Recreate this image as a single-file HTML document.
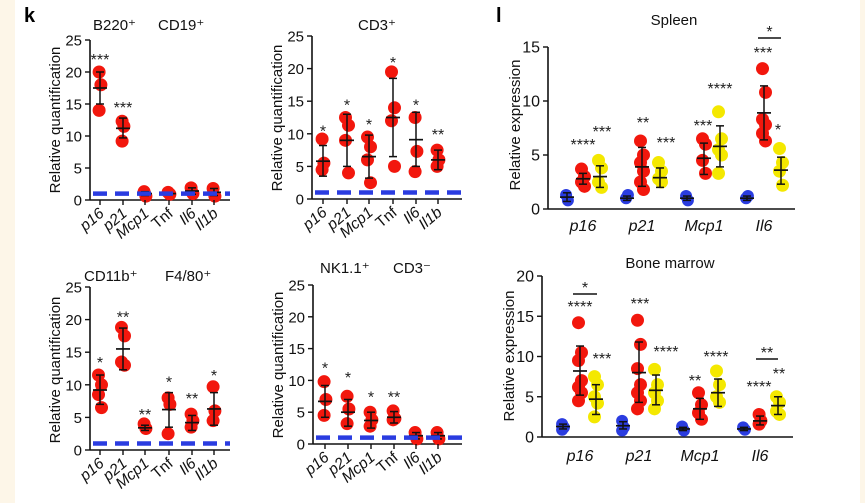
<!DOCTYPE html>
<html><head><meta charset="utf-8"><style>
body{margin:0;background:#fff;}
svg{display:block;font-family:"Liberation Sans",sans-serif;}
</style></head><body>
<svg id="s" width="865" height="503" viewBox="0 0 865 503" xmlns="http://www.w3.org/2000/svg">
<rect x="0" y="0" width="865" height="503" fill="#fff"/>
<rect x="0" y="0" width="15" height="503" fill="#fdf6e8"/>
<rect x="860" y="0" width="5" height="503" fill="#fdf6e8"/>
<text x="24" y="22" font-size="20" font-weight="bold" fill="#000">k</text>
<text x="496" y="22" font-size="20" font-weight="bold" fill="#000">l</text>
</svg>
<script>
const S=document.getElementById('s');const NS='http://www.w3.org/2000/svg';
function el(t,a,txt){const e=document.createElementNS(NS,t);for(const k in a)e.setAttribute(k,a[k]);if(txt!==undefined)e.textContent=txt;S.appendChild(e);return e;}
const RED='#f2170d',BLUE='#2a3ce0',YEL='#f4e800';
function axis(x0,x1,y0,ytop,vmax,step,fs){
 el('line',{x1:x0,y1:y0,x2:x0,y2:ytop,stroke:'#111','stroke-width':1.6});
 el('line',{x1:x0,y1:y0,x2:x1,y2:y0,stroke:'#111','stroke-width':1.6});
 for(let v=0;v<=vmax;v+=step){const y=y0-(y0-ytop)*v/vmax;
  el('line',{x1:x0-5,y1:y,x2:x0,y2:y,stroke:'#111','stroke-width':1.4});
  el('text',{x:x0-8,y:y+5.5,'font-size':fs,'text-anchor':'end',fill:'#111'},String(v));}
}
function grp(x,Y,dots,col,r,m,lo,hi){
 dots.forEach((v,i)=>el('circle',{cx:x+(i%2?1.5:-1.5)*(dots.length>3?1:0.6),cy:Y(v),r:r,fill:col}));
 if(m!==undefined){
  el('line',{x1:x,y1:Y(lo),x2:x,y2:Y(hi),stroke:'#111','stroke-width':1.5});
  el('line',{x1:x-4,y1:Y(lo),x2:x+4,y2:Y(lo),stroke:'#111','stroke-width':1.5});
  el('line',{x1:x-4,y1:Y(hi),x2:x+4,y2:Y(hi),stroke:'#111','stroke-width':1.5});
  el('line',{x1:x-7,y1:Y(m),x2:x+7,y2:Y(m),stroke:'#111','stroke-width':1.7});
 }
}
function star(x,y,s){el('text',{x:x,y:y+2,'font-size':16,'text-anchor':'middle',fill:'#222'},s);}
function kpanel(ax,y0,ytop,xs,x1,data,ylabelY){
 const Y=v=>y0-(y0-ytop)*v/25;
 axis(ax,x1,y0,ytop,25,5,15);
 el('text',{transform:`translate(${ax-30},${ylabelY}) rotate(-90)`,'font-size':15,'text-anchor':'middle',fill:'#111'},'Relative quantification');
 const labs=['p16','p21','Mcp1','Tnf','Il6','Il1b'];
 xs.forEach((x,i)=>{const d=data[i];grp(x,Y,d[0],RED,6.5,d[1],d[2],d[3]);if(d[4])star(x,Y(d[5])+4,d[4]);
  el('line',{x1:x,y1:y0,x2:x,y2:y0+5,stroke:'#111','stroke-width':1.4});
  el('text',{transform:`translate(${x+5},${y0+15}) rotate(-40)`,'font-size':15.5,'text-anchor':'end',fill:'#111','font-style':(i==3?'normal':'italic')},labs[i]);});
 el('line',{x1:ax+3,y1:Y(1),x2:x1,y2:Y(1),stroke:BLUE,'stroke-width':4.5,'stroke-dasharray':'14,8'});
}
kpanel(90,200,40,[100,123,145,169,192,214],230,[
 [[20,18,14],17.5,15,20,'***',22],[[12.3,11.5,9.2],11.2,9.7,12.8,'***',14.5],
 [[1.3,0.6],1,0.7,1.3],[[1.2,0.9],1,0.8,1.2],[[1.9,1.0],1.4,0.9,1.9],[[1.8,0.6],1.2,0.7,1.8]],120);
el('text',{x:93,y:30,'font-size':15,fill:'#111'},'B220⁺');
el('text',{x:158,y:30,'font-size':15,fill:'#111'},'CD19⁺');
kpanel(312,199,36,[323,347,369,393,416,438],462,[
 [[9.2,5.5,4.5],5.8,3.5,8.2,'*',10.5],[[12.5,11.3,9,4],9,5,13,'*',14.5],[[9.5,8,6,2.5],6.5,3.2,9.8,'*',11.5],
 [[19.5,14,12,5],12.5,6.5,18.5,'*',21],[[12.5,7.3,4.2],9.1,5,13.3,'*',14.5],[[7.5,6,5],6,4.5,7.5,'**',10]],118);
el('text',{x:358,y:30,'font-size':15,fill:'#111'},'CD3⁺');
kpanel(90,450,287,[100,123,145,169,192,214],230,[
 [[11.5,10,8.5,6.5],9.2,7,11.5,'*',13.5],[[18.8,17.5,13.5,13],15.5,12.3,18.7,'**',20.5],[[4,3.3],3.4,3,3.8,'**',5.5],
 [[8,7,2.5],6.2,3.5,8.8,'*',10.5],[[5.5,4.5,3.5],4.2,3,5.3,'**',8],[[9.7,6,4.5],6.3,3.8,8.8,'*',11.5]],370);
el('text',{x:84,y:281,'font-size':15,fill:'#111'},'CD11b⁺');
el('text',{x:165,y:281,'font-size':15,fill:'#111'},'F4/80⁺');
kpanel(313,444,285,[325,348,371,394,416,438],462,[
 [[9.8,7,4.5],6.7,4.2,9.2,'*',12],[[7.5,5.5,3.2],5,2.8,7,'*',10.5],[[5,3.8,2.8],3.7,2.5,5,'*',7.5],
 [[5.2,4,3.8],4.2,3.3,5.1,'**',7.5],[[1.8,0.8],1.3,0.8,1.8],[[1.8,0.8],1.3,0.8,1.8]],365);
el('text',{x:320,y:273,'font-size':15,fill:'#111'},'NK1.1⁺');
el('text',{x:393,y:273,'font-size':15,fill:'#111'},'CD3⁻');
function lpanel(ax,x1,y0,ytop,vmax,step,groups,labY,title,tx,ty,ylY){
 const Y=v=>y0-(y0-ytop)*v/vmax;
 axis(ax,x1,y0,ytop,vmax,step,16);
 el('text',{transform:`translate(${ax-28},${ylY}) rotate(-90)`,'font-size':15,'text-anchor':'middle',fill:'#111'},'Relative expression');
 el('text',{x:tx,y:ty,'font-size':15,'text-anchor':'middle',fill:'#111'},title);
 groups.forEach(g=>{
  grp(g.x[0],Y,g.b,BLUE,6,g.bm[0],g.bm[1],g.bm[2]);
  grp(g.x[1],Y,g.r,RED,6.5,g.rm[0],g.rm[1],g.rm[2]);
  grp(g.x[2],Y,g.y,YEL,6.5,g.ym[0],g.ym[1],g.ym[2]);
  el('text',{x:g.x[1],y:labY,'font-size':16,'font-style':'italic','text-anchor':'middle',fill:'#111'},g.l);
  (g.s||[]).forEach(s=>star(s[0],s[1],s[2]));
  if(g.br){el('line',{x1:g.br[0],y1:g.br[2],x2:g.br[1],y2:g.br[2],stroke:'#111','stroke-width':1.5});star((g.br[0]+g.br[1])/2,g.br[2]-3,g.br[3]);}
 });
}
lpanel(548,795,209,47,15,5,[
 {x:[567,583,600],l:'p16',b:[1.3,0.8],bm:[1.1,0.7,1.5],r:[3.7,3,2.5,2.1],rm:[2.8,2.3,3.3],y:[4.5,3.8,2.5,2],ym:[3,2,4],s:[[583,148,'****'],[602,135,'***']]},
 {x:[627,642,660],l:'p21',b:[1,1.3],bm:[1,0.8,1.2],r:[6.3,5,4.3,3.5,2.5,1.8],rm:[3.9,2.1,5.7],y:[4.3,3.5,2.8,2.5],ym:[2.9,2,3.8],s:[[643,126,'**'],[666,146,'***']]},
 {x:[687,704,720],l:'Mcp1',b:[1.2,0.8],bm:[1,0.8,1.2],r:[6.5,6,4.5,3.3],rm:[4.7,3.2,6.1],y:[9,6.5,5.5,5,3.3],ym:[5.8,3.9,7.7],s:[[703,129,'***'],[720,92,'****']]},
 {x:[747,764,781],l:'Il6',b:[1,1.2],bm:[1,0.8,1.2],r:[13,10.8,8.3,7.8,7,6.3],rm:[8.9,6.4,11.4],y:[5.6,4.3,3.5,2.2],ym:[3.6,2.3,4.8],s:[[763,56,'***'],[778,133,'*']],br:[758,781,38,'*']}
],231,'Spleen',674,25,125);
lpanel(542,793,437,276,20,5,[
 {x:[563,580,596],l:'p16',b:[1.6,1.2,0.9],bm:[1.3,1,1.6],r:[14.2,10.5,9.5,7,6.2,5.5,4.5],rm:[8.2,5.2,11.3],y:[7.5,6.5,5,4.2,2.5],ym:[4.7,2.8,6.5],s:[[580,310,'****'],[602,362,'***']],br:[573,597,294,'*']},
 {x:[623,639,656],l:'p21',b:[2,1.2,0.8],bm:[1.4,1,1.9],r:[14.5,11.5,8.5,6.5,5.5,4.5,3.5],rm:[8,4.3,11.8],y:[8.4,6.5,5.5,4.5,3.5],ym:[5.8,4,7.7],s:[[640,307,'***'],[666,355,'****']]},
 {x:[683,700,718],l:'Mcp1',b:[1.3,0.8],bm:[1,0.8,1.2],r:[5.5,4,3,2.2],rm:[3.5,2.2,4.8],y:[8.2,6.5,5,4.3],ym:[5.5,3.8,7.2],s:[[695,384,'**'],[716,360,'****']]},
 {x:[744,760,778],l:'Il6',b:[1.2,0.9],bm:[1,0.8,1.2],r:[2.8,2,1.6],rm:[2,1.5,2.6],y:[5,4.3,3.2,2.8],ym:[3.9,2.8,5],s:[[759,390,'****'],[779,377,'**']],br:[756,778,359,'**']}
],461,'Bone marrow',670,268,356);
</script>
</body></html>
